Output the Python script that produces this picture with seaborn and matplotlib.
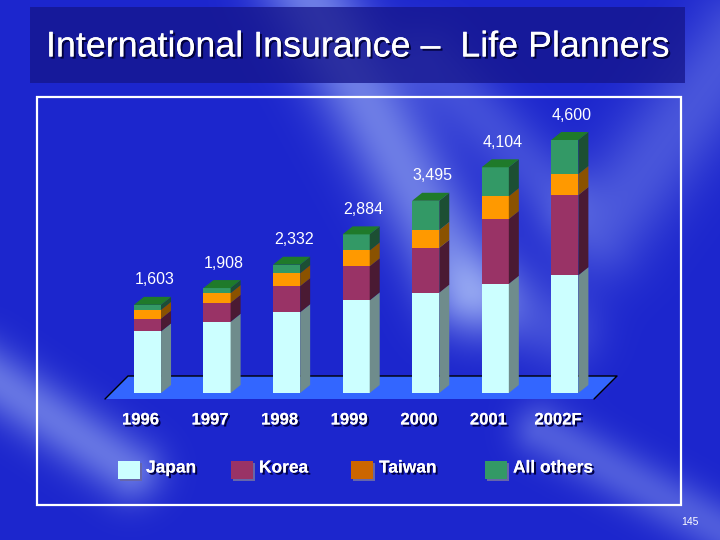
import numpy as np
import seaborn as sns
import matplotlib
matplotlib.use("Agg")
import matplotlib.pyplot as plt
import matplotlib.patheffects as pe
from matplotlib.patches import Polygon, Rectangle
from matplotlib.transforms import ScaledTranslation

# data
years = ["1996", "1997", "1998", "1999", "2000", "2001", "2002F"]
japan = [1120, 1295, 1469, 1685, 1823, 1985, 2142]
korea = [230, 343, 473, 618, 815, 1177, 1457]
taiwan = [163, 180, 237, 290, 326, 417, 382]
others = [90, 90, 153, 291, 531, 525, 619]
totals = [1603, 1908, 2332, 2884, 3495, 4104, 4600]
series = ["Japan", "Korea", "Taiwan", "All others"]

front_col = ["#CCFFFF", "#993366", "#FF9900", "#339966"]
side_col = ["#6F8C8C", "#4A1A33", "#8A5200", "#1C4F33"]
legend_col = ["#CCFFFF", "#993366", "#CC6600", "#339966"]
top_col = "#1F7A2A"

sns.set_theme(style="white")
plt.rcParams["font.family"] = ["Liberation Sans", "DejaVu Sans"]

fig = plt.figure(figsize=(7.2, 5.4), dpi=100)

# slide background (pixel coordinates)
bg = fig.add_axes([0, 0, 1, 1])
bg.set_xlim(0, 720)
bg.set_ylim(540, 0)
bg.axis("off")

yy, xx = np.mgrid[0:540, 0:720].astype(float)


def band(p0, p1, w, amp):
    (x0, y0), (x1, y1) = p0, p1
    vx, vy = x1 - x0, y1 - y0
    L = np.hypot(vx, vy)
    t = ((xx - x0) * vx + (yy - y0) * vy) / L**2
    t = np.clip(t, 0, 1)
    d = np.hypot(xx - (x0 + t * vx), yy - (y0 + t * vy))
    return amp * np.exp(-(d / w) ** 2)


I = (band((300, -20), (470, 290), 45, 0.55)
     + band((470, 290), (560, 330), 40, 0.25)
     + band((-20, 370), (130, 470), 32, 0.5)
     + band((540, 430), (740, 540), 28, 0.35)
     + band((740, 40), (600, 230), 50, 0.3)
     + band((430, 60), (560, 200), 35, 0.25))
I = np.clip(I, 0, 0.85)[..., None]
base = np.array([28, 38, 205]) / 255
light = np.array([175, 195, 250]) / 255
img = base * (1 - I) + light * I
bg.imshow(img, extent=(0, 720, 540, 0), aspect="auto", zorder=0)

# title box
bg.add_patch(Rectangle((30, 7), 655, 76, fc="#15158A", alpha=0.75, lw=0, zorder=1))
bg.text(358, 47, "International Insurance \u2013  Life Planners", color="white",
        fontsize=25.8, ha="center", va="center", zorder=2,
        path_effects=[pe.withSimplePatchShadow(offset=(1.5, -1.5), shadow_rgbFace="#000033", alpha=0.9),
                      pe.Normal()])

# chart frame
bg.add_patch(Rectangle((37, 97), 644, 408, fill=False, ec="white", lw=1.6, zorder=2))

# floor
bg.add_patch(Polygon([(105, 399), (594, 399), (617, 376), (128, 376)], closed=True,
                     fc="#3366FF", ec="none", zorder=2))
bg.plot([105, 128, 617, 594], [399, 376, 376, 399], color="black", lw=1, zorder=3)

# legend
leg_x = [118, 231, 351, 485]
for x, name, c in zip(leg_x, series, legend_col):
    bg.add_patch(Rectangle((x + 1.5, 462.5), 22, 18, fc="#6666AA", lw=0, zorder=2))
    bg.add_patch(Rectangle((x, 461), 22, 18, fc=c, lw=0, zorder=3))
    bg.text(x + 28, 468, name, color="white", fontsize=12.5, fontweight="bold",
            ha="left", va="center", zorder=3,
            path_effects=[pe.withSimplePatchShadow(offset=(1.5, -1.5), shadow_rgbFace="#000044", alpha=1),
                          pe.Normal()])

bg.text(690, 522, "145", color="white", fontsize=7.5, ha="center", va="center", zorder=3)

# bar axes
ax = fig.add_axes([112.7 / 720, (540 - 393) / 540, 486.9 / 720, 275 / 540])
ax.patch.set_alpha(0)

layers = [japan, korea, taiwan, others]
cum = np.cumsum(np.array(layers), axis=0)
bar_w = 0.39
for k in range(3, -1, -1):
    sns.barplot(x=years, y=cum[k], color=front_col[k], saturation=1, width=bar_w,
                edgecolor="none", linewidth=0, ax=ax, zorder=3)

ax.set_xlim(-0.5, 6.5)
ax.set_ylim(0, 5000)

dx = 10 / 69.55
dy = 8 * 5000 / 275
centers = np.arange(len(years))
for i, xc in enumerate(centers):
    xl, xr = xc - bar_w / 2, xc + bar_w / 2
    lo = 0
    for k in range(4):
        hi = cum[k][i]
        ax.add_patch(Polygon([(xr, lo), (xr + dx, lo + dy), (xr + dx, hi + dy), (xr, hi)],
                             closed=True, fc=side_col[k], ec="none", zorder=3, clip_on=False))
        lo = hi
    ax.add_patch(Polygon([(xl, lo), (xl + dx, lo + dy), (xr + dx, lo + dy), (xr, lo)],
                         closed=True, fc=top_col, ec="none", zorder=3, clip_on=False))
    ax.text(xc + dx / 2 + 0.03, totals[i] + dy + 170, f"{totals[i]:,}", color="white",
            fontsize=11.5, ha="center", va="bottom", zorder=4)

ax.set_xlabel("")
ax.set_ylabel("")
ax.set_yticks([])
ax.tick_params(axis="x", length=0, pad=14, labelsize=12, colors="white")
for lbl in ax.get_xticklabels():
    lbl.set_fontweight("bold")
    lbl.set_transform(lbl.get_transform() + ScaledTranslation(-7 / 100, 0, fig.dpi_scale_trans))
    lbl.set_path_effects([pe.withSimplePatchShadow(offset=(1.5, -1.5), shadow_rgbFace="#000044", alpha=1),
                          pe.Normal()])
sns.despine(ax=ax, left=True, bottom=True)
ax.grid(False)

fig.savefig("out.png", dpi=100)
